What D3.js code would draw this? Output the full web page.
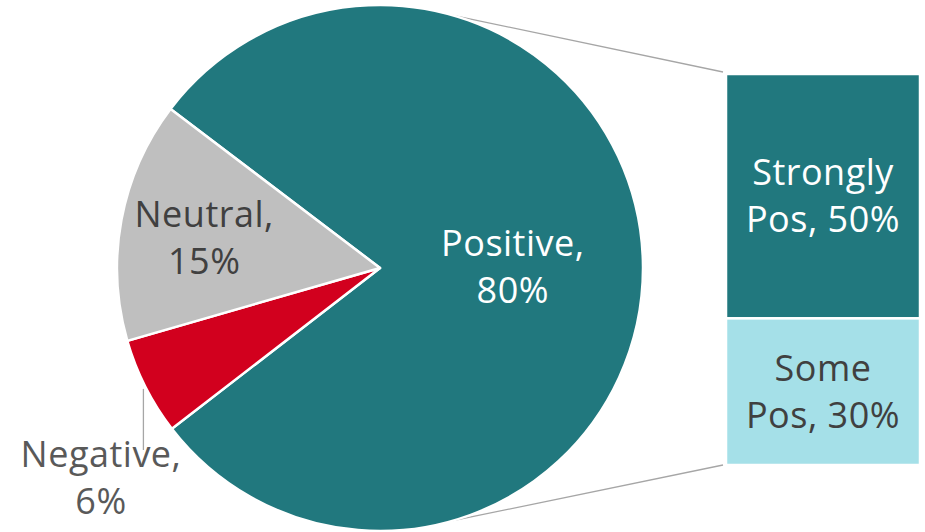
<!DOCTYPE html>
<html>
<head>
<meta charset="utf-8">
<script src="https://cdn.jsdelivr.net/npm/d3@7"></script>
<style>
  body { margin: 0; background: #fff; }
  text { font-family: "Open Sans", Lato, sans-serif; letter-spacing: 0.5px; }
</style>
</head>
<body>
<script>
// pie data (labels as printed)
const pieNames = ["Positive", "Negative", "Neutral"];
const pieValues = [79.2, 6.0, 14.8];
const pieLabels = ["80%", "6%", "15%"];
// bar breakdown of Positive
const barNames = ["Strongly Pos", "Some Pos"];
const barValues = [50, 30];
const barLabels = ["50%", "30%"];

const width = 925, height = 532;
const cx = 380, cy = 268, radius = 263;
const pieColor = { Positive: "#21787e", Negative: "#d2001e", Neutral: "#bfbfbf" };
const barColor = ["#21787e", "#a5e0e8"];
const barTextColor = ["#ffffff", "#404040"];

const svg = d3.select("body").append("svg")
  .attr("width", width)
  .attr("height", height);

const start = -52.8 * Math.PI / 180;
const pie = d3.pie().sort(null).value(d => d.value)
  .startAngle(start).endAngle(start + 2 * Math.PI);
const arcs = pie(pieNames.map((n, i) => ({ name: n, value: pieValues[i], label: pieLabels[i] })));
const arc = d3.arc().innerRadius(0).outerRadius(radius);

const g = svg.append("g").attr("transform", `translate(${cx},${cy})`);

// connector lines to the bar
const barX = 726, barW = 194, barTop = 74, barBottom = 465;
const ang = 16.1 * Math.PI / 180;
const lineData = [
  [[Math.sin(ang) * radius, -Math.cos(ang) * radius], [barX - 3 - cx, barTop - 2 - cy]],
  [[Math.sin(Math.PI - ang) * radius, -Math.cos(Math.PI - ang) * radius], [barX - 3 - cx, barBottom - cy]]
];
g.selectAll("line.conn").data(lineData).enter().append("line")
  .attr("class", "conn")
  .attr("x1", d => d[0][0]).attr("y1", d => d[0][1])
  .attr("x2", d => d[1][0]).attr("y2", d => d[1][1])
  .attr("stroke", "#a6a6a6").attr("stroke-width", 1.3);

g.selectAll("path").data(arcs).enter().append("path")
  .attr("d", arc)
  .attr("fill", d => pieColor[d.data.name])
  .attr("stroke", "#fff")
  .attr("stroke-width", 2.5)
  .attr("stroke-linejoin", "round");

// slice labels
const fs = 36;
function twoLine(sel, l1, l2, x, y, col) {
  const t = sel.append("text")
    .attr("text-anchor", "middle")
    .attr("fill", col)
    .style("font-size", fs + "px");
  t.append("tspan").attr("x", x).attr("y", y).text(l1);
  t.append("tspan").attr("x", x).attr("y", y + 47).text(l2);
}

arcs.forEach(d => {
  const mid = (d.startAngle + d.endAngle) / 2;
  if (d.data.name === "Positive") {
    const r = radius * 0.505;
    twoLine(g, d.data.name + ",", d.data.label, Math.sin(mid) * r, -Math.cos(mid) * r - 11, "#ffffff");
  } else if (d.data.name === "Neutral") {
    const r = radius * 0.68;
    twoLine(g, d.data.name + ",", d.data.label, Math.sin(mid) * r, -Math.cos(mid) * r - 8, "#404040");
  } else {
    const ex = Math.sin(mid) * radius, ey = -Math.cos(mid) * radius;
    g.append("line")
      .attr("x1", ex - 2).attr("y1", ey + 2)
      .attr("x2", ex - 2).attr("y2", 450 - cy)
      .attr("stroke", "#a6a6a6").attr("stroke-width", 1.3);
    twoLine(g, d.data.name + ",", d.data.label, 101 - cx, 467 - cy, "#595959");
  }
});

// bar of pie
const y = d3.scaleLinear()
  .domain([0, d3.sum(barValues)])
  .range([barTop, barBottom]);
let acc = 0;
const segs = barValues.map((v, i) => {
  const s = { name: barNames[i], label: barLabels[i], y0: acc, y1: acc + v, i: i };
  acc += v;
  return s;
});
svg.selectAll("rect.seg").data(segs).enter().append("rect")
  .attr("class", "seg")
  .attr("x", barX)
  .attr("y", d => y(d.y0))
  .attr("width", barW)
  .attr("height", d => y(d.y1) - y(d.y0))
  .attr("fill", d => barColor[d.i])
  .attr("stroke", "#fff")
  .attr("stroke-width", 2.5);

segs.forEach(d => {
  const words = d.name.split(" ");
  const mid = (y(d.y0) + y(d.y1)) / 2;
  twoLine(svg, words[0], words.slice(1).join(" ") + ", " + d.label, barX + barW / 2, mid - 11, barTextColor[d.i]);
});
</script>
</body>
</html>
